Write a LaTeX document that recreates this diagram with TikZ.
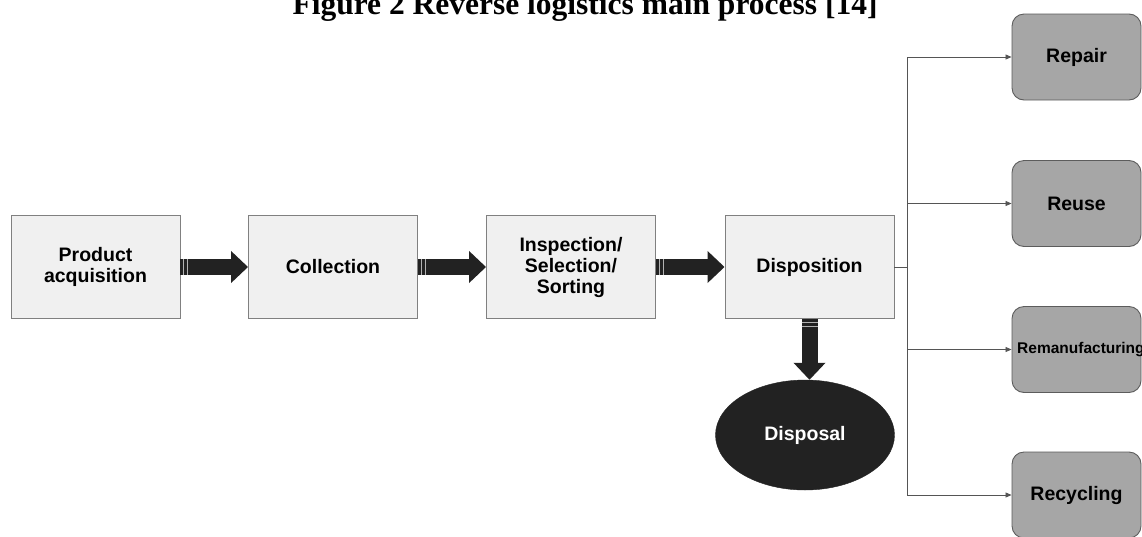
\documentclass[tikz,border=0pt]{standalone}
\usepackage{fontspec}
\setmainfont{Liberation Sans}
\newfontfamily\titlefont{Liberation Serif}
\usetikzlibrary{arrows.meta,shapes.geometric,calc}
\definecolor{lightbox}{HTML}{F0F0F0}
\definecolor{lightedge}{HTML}{808080}
\definecolor{graybox}{HTML}{A6A6A6}
\definecolor{grayedge}{HTML}{5C5C5C}
\definecolor{fatc}{HTML}{222222}
\definecolor{linec}{HTML}{555555}
\tikzset{
  procbox/.style={draw=lightedge, fill=lightbox, line width=0.9pt, minimum width=169pt, minimum height=103pt, inner sep=0pt, align=center, font=\fontsize{19.5}{21}\selectfont\bfseries},
  outbox/.style={draw=grayedge, fill=graybox, line width=0.9pt, rounded corners=12pt, minimum width=129pt, minimum height=86pt, inner sep=0pt, align=center, font=\fontsize{19.5}{21}\selectfont\bfseries},
  fatarrow/.style={draw=fatc, line width=16pt, -{Triangle[length=17pt,width=31pt]}},
  stripe/.style={draw=gray!60, line width=0.8pt},
  branch/.style={draw=linec, line width=0.8pt},
  brarrow/.style={draw=linec, line width=0.8pt, -{Triangle[length=6pt,width=5pt]}},
}
\begin{document}
\begin{tikzpicture}[x=1pt,y=-1pt]
\useasboundingbox (0,0) rectangle (1142,536);
% title
\node[anchor=base, inner sep=0pt, font=\titlefont\fontsize{31.5}{34}\selectfont\bfseries] (title) at (585,14.5) {Figure 2 Reverse logistics main process [14]};
% process boxes
\node[procbox] (acq) at (95.5,267) {Product\\acquisition};
\node[procbox] (col) at (333,267) {Collection};
\node[procbox] (ins) at (571,267) {Inspection/\\Selection/\\Sorting};
\node[procbox] (disp) at (809.5,267) {Disposition};
% disposal
\node[ellipse, fill=fatc, draw=fatc, minimum width=179pt, minimum height=110pt, inner sep=0pt, text=white, font=\fontsize{19.5}{21}\selectfont\bfseries] (disposal) at (805,435) {Disposal};
% fat arrows
\draw[fatarrow] (acq.east) -- (col.west);
\draw[fatarrow] (col.east) -- (ins.west);
\draw[fatarrow] (ins.east) -- (disp.west);
\draw[fatarrow] (disp.south) -- (disp.south |- disposal.north);
% stripes at arrow starts
\foreach \n in {acq,col,ins}{
  \draw[stripe] ($(\n.east)+(3,-8)$) -- ++(0,16);
  \draw[stripe] ($(\n.east)+(7,-8)$) -- ++(0,16);
}
\draw[stripe] ($(disp.south)+(-8,3)$) -- ++(16,0);
\draw[stripe] ($(disp.south)+(-8,7)$) -- ++(16,0);
% output boxes
\node[outbox] (repair) at (1076.5,57) {Repair};
\node[outbox] (reuse) at (1076.5,203.5) {Reuse};
\node[outbox] (reman) at (1076.5,349.5) {};
\node[anchor=west, inner sep=0pt, font=\fontsize{15.5}{17}\selectfont\bfseries] (remantext) at (1017,349.5) {Remanufacturing};
\node[outbox] (recyc) at (1076.5,495) {Recycling};
% branch connectors
\coordinate (br) at (907,267);
\draw[branch] (disp.east) -- (br);
\draw[branch] (br |- repair.west) -- (br |- recyc.west);
\draw[brarrow] (br |- repair.west) -- (repair.west);
\draw[brarrow] (br |- reuse.west) -- (reuse.west);
\draw[brarrow] (br |- reman.west) -- (reman.west);
\draw[brarrow] (br |- recyc.west) -- (recyc.west);
\end{tikzpicture}
\end{document}
